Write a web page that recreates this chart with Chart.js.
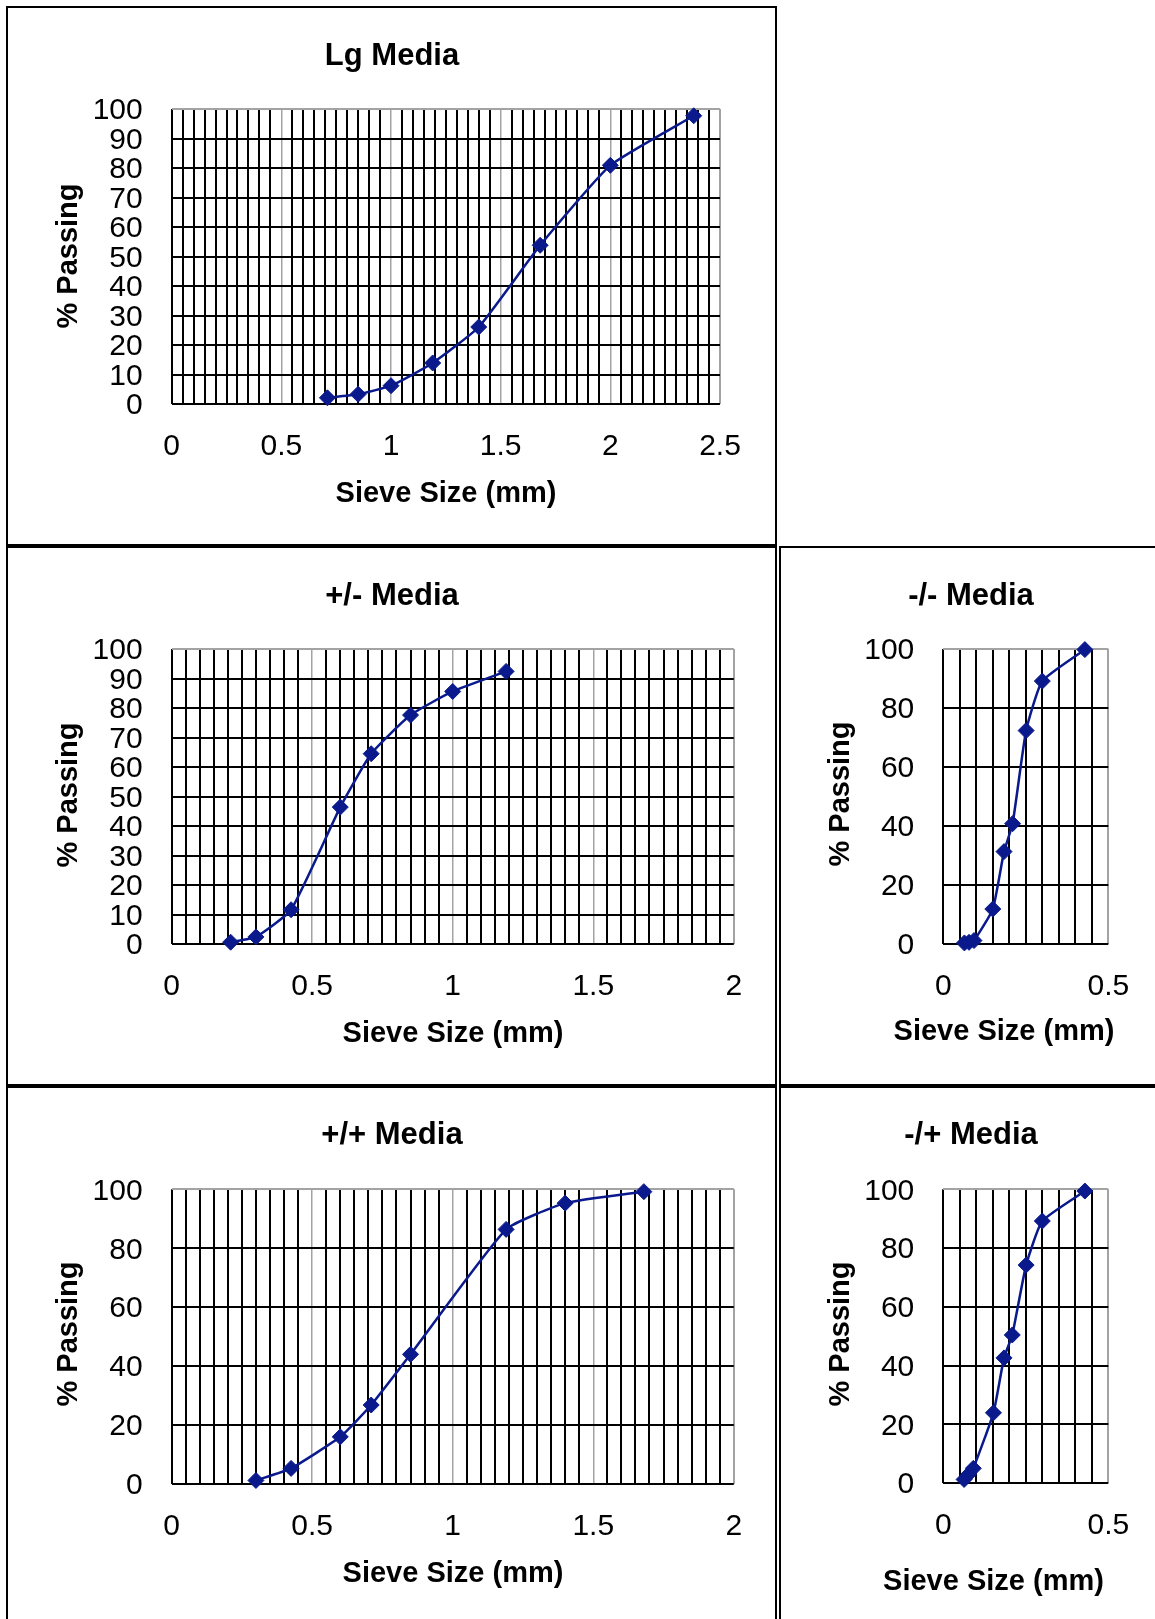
<!DOCTYPE html>
<html>
<head>
<meta charset="utf-8">
<script src="https://cdn.jsdelivr.net/npm/chart.js@4/dist/chart.umd.min.js"></script>
<style>
html,body{margin:0;padding:0;background:#fff;overflow:hidden;width:1155px;height:1619px;}
.box{position:absolute;border:2px solid #000;box-sizing:border-box;}
canvas{position:absolute;display:block;}
</style>
</head>
<body>
<div class="box" style="left:6px;top:6px;width:771px;height:540px"></div>
<div class="box" style="left:6px;top:546px;width:771px;height:540px"></div>
<div class="box" style="left:779px;top:546px;width:420px;height:540px"></div>
<div class="box" style="left:6px;top:1086px;width:771px;height:600px"></div>
<div class="box" style="left:779px;top:1086px;width:420px;height:600px"></div>
<canvas id="c1"></canvas>
<canvas id="c2"></canvas>
<canvas id="c3"></canvas>
<canvas id="c4"></canvas>
<canvas id="c5"></canvas>
<script>
// ---- data ----
const chartTitles = ['Lg Media', '+/- Media', '-/- Media', '+/+ Media', '-/+ Media'];
const xAxisTitle = 'Sieve Size (mm)';
const yAxisTitle = '% Passing';

const lgSize = [0.71, 0.85, 1.00, 1.19, 1.40, 1.68, 2.00, 2.38];
const lgPass = [2.1, 3.3, 6.2, 13.9, 26.1, 53.8, 80.9, 97.7];

const pmSize = [0.21, 0.30, 0.425, 0.60, 0.71, 0.85, 1.00, 1.19];
const pmPass = [0.6, 2.4, 11.6, 46.4, 64.5, 77.6, 85.6, 92.4];

const mmSize = [0.064, 0.078, 0.093, 0.150, 0.184, 0.210, 0.251, 0.300, 0.429];
const mmPass = [0.2, 0.4, 1.0, 11.7, 31.2, 40.7, 72.3, 89.1, 99.8];

const ppSize = [0.30, 0.425, 0.60, 0.71, 0.85, 1.19, 1.40, 1.68];
const ppPass = [1.2, 5.3, 16.0, 26.8, 44.0, 86.4, 95.3, 99.2];

const mpSize = [0.063, 0.077, 0.091, 0.152, 0.184, 0.209, 0.251, 0.300, 0.429];
const mpPass = [1.2, 3.0, 5.0, 23.9, 42.6, 50.4, 74.2, 89.2, 99.4];

const xMaxes = [2.5, 2, 0.5, 2, 0.5];
const xMinorStep = 0.05;
const xMajorStep = 0.5;
const yMajorSteps = [10, 10, 20, 20, 20];

// ---- style / layout ----
const FONT = '"Liberation Sans", Arial, Helvetica, sans-serif';
const NAVY = '#0a1a8c';
const GRAY = '#a3a3a3';

const layouts = [
  { id:'c1', canvas:{x:8, y:8, w:767, h:536},    plot:{l:171.7, t:109, r:720, b:404},
    title:{x:392, y:56}, ytitle:{x:69, y:256}, xtitle:{x:446, y:494} },
  { id:'c2', canvas:{x:8, y:548, w:767, h:536},  plot:{l:171.6, t:649, r:733.8, b:944},
    title:{x:392, y:596}, ytitle:{x:69, y:795}, xtitle:{x:453, y:1034} },
  { id:'c3', canvas:{x:781, y:548, w:374, h:536}, plot:{l:943.3, t:649, r:1108.3, b:943.5},
    title:{x:971, y:596}, ytitle:{x:841, y:794}, xtitle:{x:1004, y:1032} },
  { id:'c4', canvas:{x:8, y:1088, w:767, h:531}, plot:{l:171.6, t:1189.3, r:733.8, b:1484},
    title:{x:392, y:1135}, ytitle:{x:69, y:1334}, xtitle:{x:453, y:1574} },
  { id:'c5', canvas:{x:781, y:1088, w:374, h:531}, plot:{l:943.3, t:1189.3, r:1108.3, b:1483},
    title:{x:971, y:1135}, ytitle:{x:841, y:1334}, xtitle:{x:993.5, y:1582} }
];

const seriesX = [lgSize, pmSize, mmSize, ppSize, mpSize];
const seriesY = [lgPass, pmPass, mmPass, ppPass, mpPass];

const textPlugin = {
  id: 'texts',
  afterDraw(chart, args, opts) {
    const ctx = chart.ctx;
    for (const t of opts.items) {
      ctx.save();
      ctx.font = t.font;
      ctx.fillStyle = '#000';
      ctx.textAlign = 'center';
      ctx.textBaseline = 'middle';
      ctx.translate(t.x, t.y);
      if (t.rot) ctx.rotate(t.rot);
      ctx.fillText(t.text, 0, 0);
      ctx.restore();
    }
  }
};

function fmt(v) { return String(Number(v.toFixed(2))); }

layouts.forEach((L, k) => {
  const cv = document.getElementById(L.id);
  cv.width = L.canvas.w; cv.height = L.canvas.h;
  cv.style.left = L.canvas.x + 'px'; cv.style.top = L.canvas.y + 'px';
  cv.style.width = L.canvas.w + 'px'; cv.style.height = L.canvas.h + 'px';
  const ox = L.canvas.x, oy = L.canvas.y;
  const plotL = L.plot.l - ox, plotT = L.plot.t - oy, plotR = L.plot.r - ox, plotB = L.plot.b - oy;
  const xMax = xMaxes[k];
  const majorEvery = Math.round(xMajorStep / xMinorStep);
  const nX = Math.round(xMax / xMinorStep);
  const yStep = yMajorSteps[k];
  const nY = Math.round(100 / yStep);
  const pts = seriesX[k].map((x, i) => ({ x: x, y: seriesY[k][i] }));

  new Chart(cv, {
    type: 'scatter',
    data: { datasets: [{
      data: pts,
      showLine: true,
      borderColor: NAVY,
      borderWidth: 2.5,
      backgroundColor: NAVY,
      pointBackgroundColor: NAVY,
      pointBorderColor: NAVY,
      pointBorderWidth: 1,
      pointStyle: 'rectRot',
      pointRadius: 8,
      pointHoverRadius: 8,
      tension: 0.15,
      clip: false
    }]},
    options: {
      responsive: false,
      devicePixelRatio: 1,
      animation: false,
      events: [],
      layout: { padding: { left: 0, top: plotT, right: L.canvas.w - plotR, bottom: 0 } },
      plugins: {
        legend: { display: false },
        tooltip: { enabled: false },
        texts: { items: [
          { text: chartTitles[k], x: L.title.x - ox, y: L.title.y - oy, font: 'bold 31px ' + FONT },
          { text: yAxisTitle, x: L.ytitle.x - ox, y: L.ytitle.y - oy, font: 'bold 29px ' + FONT, rot: -Math.PI/2 },
          { text: xAxisTitle, x: L.xtitle.x - ox, y: L.xtitle.y - oy, font: 'bold 29px ' + FONT }
        ]}
      },
      scales: {
        x: {
          type: 'linear', position: 'bottom', min: 0, max: xMax,
          ticks: {
            stepSize: xMinorStep, autoSkip: false, maxRotation: 0, minRotation: 0,
            padding: 25, color: '#000', font: { family: FONT, size: 30 },
            callback: (v, i) => (i % majorEvery === 0) ? fmt(v) : ''
          },
          grid: {
            drawTicks: false,
            color: c => (c.index !== 0 && c.index % majorEvery === 0) ? GRAY : '#000',
            lineWidth: c => (c.index === nX) ? 2 : ((c.index !== 0 && c.index % majorEvery === 0) ? 1.5 : 2)
          },
          border: { display: false },
          afterFit: s => { s.height = L.canvas.h - plotB; }
        },
        y: {
          type: 'linear', position: 'left', min: 0, max: 100,
          ticks: { stepSize: yStep, autoSkip: false, padding: 29, labelOffset: 2, color: '#000',
            font: { family: FONT, size: 30 }, callback: v => String(v) },
          grid: {
            drawTicks: false,
            color: c => (c.index === nY) ? GRAY : '#000',
            lineWidth: 2
          },
          border: { display: false },
          afterFit: s => { s.width = plotL; }
        }
      }
    },
    plugins: [textPlugin]
  });
});
</script>
</body>
</html>
